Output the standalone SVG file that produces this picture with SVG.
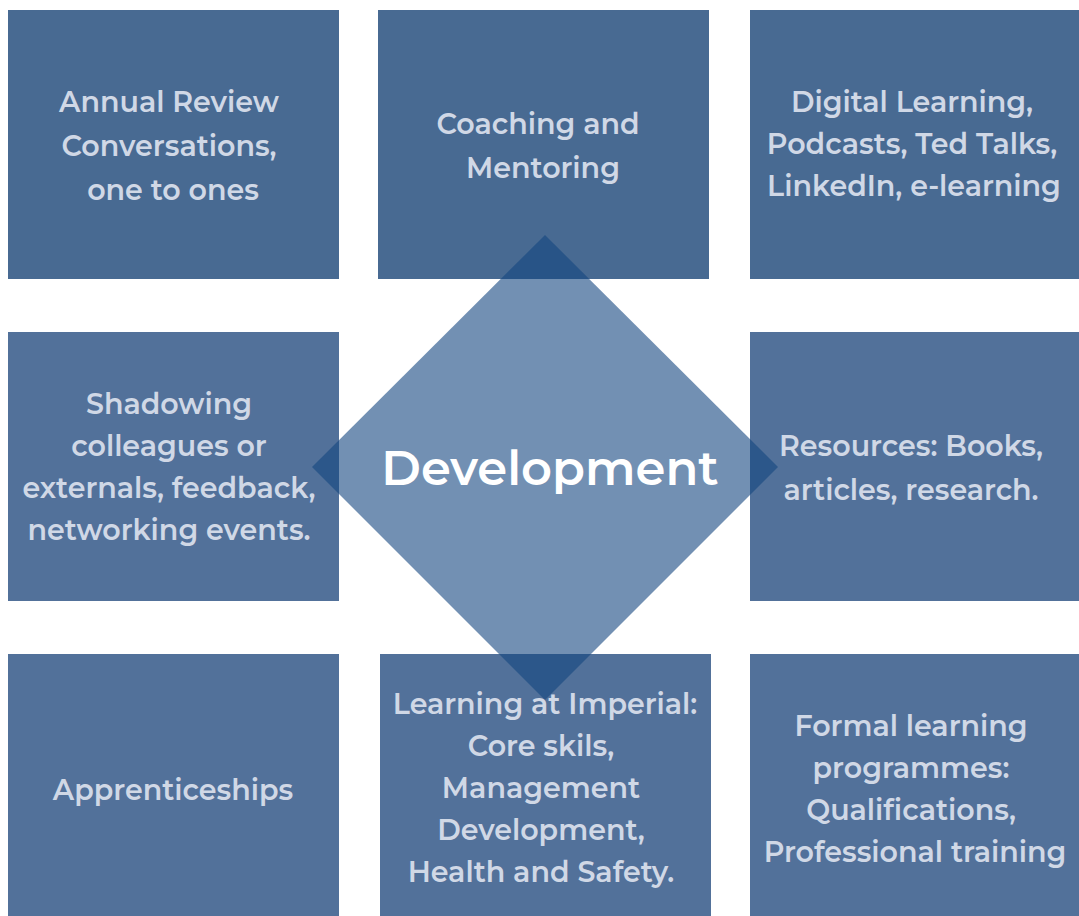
<svg xmlns="http://www.w3.org/2000/svg" width="1079" height="916" viewBox="0 0 1079 916">
<style>
.top{fill:#486A92}
.low{fill:#52719A}
.t{font-family:"Montserrat","Open Sans","Liberation Sans",sans-serif;font-weight:600;font-size:28.5px;fill:#D0D8E6;text-anchor:middle}
.c{font-family:"Montserrat","Open Sans","Liberation Sans",sans-serif;font-weight:600;font-size:48px;fill:#FFFFFF;text-anchor:middle}
</style>
<rect width="1079" height="916" fill="#FFFFFF"/>
<g id="box-annual"><rect class="top" x="8" y="10" width="331" height="269"/></g>
<g id="box-coaching"><rect class="top" x="378" y="10" width="331" height="269"/></g>
<g id="box-digital"><rect class="top" x="750" y="10" width="329" height="269"/></g>
<g id="box-shadowing"><rect class="low" x="8" y="332" width="331" height="269"/></g>
<g id="box-resources"><rect class="low" x="750" y="332" width="329" height="269"/></g>
<g id="box-apprentice"><rect class="low" x="8" y="654" width="331" height="262"/></g>
<g id="box-imperial"><rect class="low" x="380" y="654" width="331" height="262"/></g>
<g id="box-formal"><rect class="low" x="750" y="654" width="329" height="262"/></g>
<g id="center">
<polygon points="545,235 778,467 545,700 312,467" fill="rgb(20,70,128)" fill-opacity="0.6"/>
<text class="c" x="550" y="485">Development</text>
</g>
<g id="labels">
<text class="t" x="169" y="112">Annual Review</text>
<text class="t" x="169" y="156">Conversations,</text>
<text class="t" x="173" y="200">one to ones</text>
<text class="t" x="538" y="134">Coaching and</text>
<text class="t" x="543" y="178">Mentoring</text>
<text class="t" x="912" y="112">Digital Learning,</text>
<text class="t" x="912" y="154">Podcasts, Ted Talks,</text>
<text class="t" x="914" y="196">LinkedIn, e-learning</text>
<text class="t" x="169" y="414">Shadowing</text>
<text class="t" x="169" y="456">colleagues or</text>
<text class="t" x="169" y="498">externals, feedback,</text>
<text class="t" x="169" y="540">networking events.</text>
<text class="t" x="911" y="456">Resources: Books,</text>
<text class="t" x="911" y="500">articles, research.</text>
<text class="t" x="173" y="800">Apprenticeships</text>
<text class="t" x="545" y="714">Learning at Imperial:</text>
<text class="t" x="541" y="756">Core skils,</text>
<text class="t" x="541" y="798">Management</text>
<text class="t" x="541" y="840">Development,</text>
<text class="t" x="541" y="882">Health and Safety.</text>
<text class="t" x="911" y="736">Formal learning</text>
<text class="t" x="911" y="778">programmes:</text>
<text class="t" x="911" y="820">Qualifications,</text>
<text class="t" x="915" y="862">Professional training</text>
</g>
<g id="connectors"/>
</svg>
